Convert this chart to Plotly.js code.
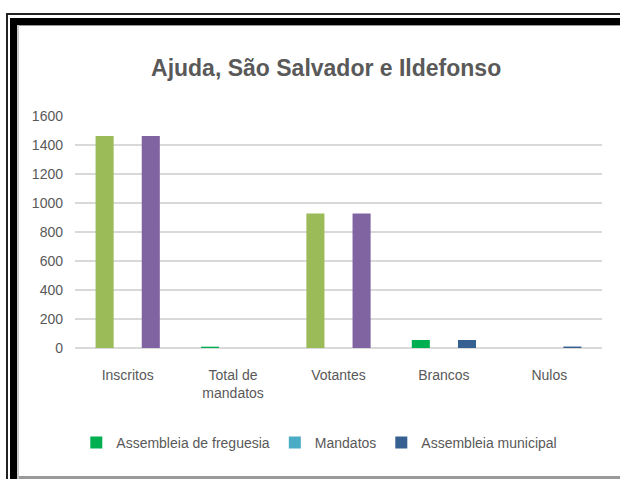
<!DOCTYPE html>
<html>
<head>
<meta charset="utf-8">
<script src="https://cdn.plot.ly/plotly-3.0.1.min.js"></script>
<style>
  html, body { margin: 0; padding: 0; background: #fff; }
  #wrap { position: relative; width: 620px; height: 479px; overflow: hidden; }
  #chart { position: absolute; left: 0; top: 0; width: 620px; height: 479px; }
  .frame { position: absolute; pointer-events: none; }
</style>
</head>
<body>
<div id="wrap">
  <div id="chart"></div>
  <!-- double black frame along the top and left edges -->
  <div class="frame" style="left:6px; top:13px; width:614px; height:2px; background:#222;"></div>
  <div class="frame" style="left:6px; top:13px; width:2px; height:466px; background:#222;"></div>
  <div class="frame" style="left:10px; top:18px; width:610px; height:7px; background:#000;"></div>
  <div class="frame" style="left:10px; top:18px; width:7px; height:461px; background:#000;"></div>
  <div class="frame" style="left:17px; top:25px; width:603px; height:1px; background:#9a9a9a;"></div>
  <div class="frame" style="left:17px; top:25px; width:2px; height:454px; background:#c8c8c8;"></div>
  <div class="frame" style="left:19px; top:476px; width:601px; height:3px; background:#9a9a9a;"></div>
</div>
<script>
// Categories on the x axis
const categories = ['Inscritos', 'Total de<br>mandatos', 'Votantes', 'Brancos', 'Nulos'];

// Series values
const assembleiaFreguesia = [1462, 9, 928, 55, 0];
const mandatos = [0, 0, 0, 0, 0];
const assembleiaMunicipal = [1462, 0, 928, 55, 10];

// Per-bar colours
const freguesiaColors = ['#9BBB59', '#00B050', '#9BBB59', '#00B050', '#00B050'];
const mandatosColors = ['#4BACC6', '#4BACC6', '#4BACC6', '#4BACC6', '#4BACC6'];
const municipalColors = ['#8064A2', '#376092', '#8064A2', '#376092', '#376092'];

// Legend swatch colours
const seriesNames = ['Assembleia de freguesia', 'Mandatos', 'Assembleia municipal'];
const legendColors = ['#00B050', '#4BACC6', '#376092'];
const groups = ['f', 'm', 'a'];

const font = '"Liberation Sans", Arial, sans-serif';
const grey = '#595959';

const barTraces = [assembleiaFreguesia, mandatos, assembleiaMunicipal].map((vals, i) => ({
  type: 'bar',
  x: categories,
  y: vals,
  name: seriesNames[i],
  offsetgroup: groups[i],
  marker: { color: [freguesiaColors, mandatosColors, municipalColors][i] },
  showlegend: false,
  hoverinfo: 'x+y+name'
}));

// Entries that only carry the legend swatches
const legendTraces = seriesNames.map((name, i) => ({
  type: 'bar',
  x: categories,
  y: categories.map(() => null),
  name: name,
  offsetgroup: groups[i],
  marker: { color: legendColors[i] },
  showlegend: true,
  hoverinfo: 'skip'
}));

const layout = {
  width: 620,
  height: 479,
  margin: { l: 75, r: 18, t: 116, b: 131 },
  paper_bgcolor: '#ffffff',
  plot_bgcolor: '#ffffff',
  font: { family: font, size: 14, color: grey },
  title: {
    text: '<b>Ajuda, São Salvador e Ildefonso</b>',
    font: { family: font, size: 23, color: grey },
    xref: 'container', x: 0.526, xanchor: 'center',
    yref: 'container', y: 1 - 68 / 479, yanchor: 'middle'
  },
  barmode: 'group',
  bargap: 0.343,
  bargroupgap: 0.217,
  xaxis: {
    type: 'category',
    showgrid: false,
    showline: false,
    zeroline: false,
    ticks: '',
    ticklabelstandoff: 17,
    tickfont: { family: font, size: 14, color: grey }
  },
  yaxis: {
    range: [0, 1600],
    dtick: 200,
    showgrid: true,
    gridcolor: '#d9d9d9',
    gridwidth: 1.5,
    zeroline: true,
    zerolinecolor: '#d9d9d9',
    zerolinewidth: 1.5,
    showline: false,
    ticks: '',
    ticklabelstandoff: 11,
    tickfont: { family: font, size: 14, color: grey }
  },
  legend: {
    orientation: 'h',
    xref: 'container', x: 0.515, xanchor: 'center',
    yref: 'container', y: 1 - 443 / 479, yanchor: 'middle',
    itemwidth: 30,
    font: { family: font, size: 14, color: grey },
    traceorder: 'normal'
  },
  showlegend: true
};

Plotly.newPlot('chart', barTraces.concat(legendTraces), layout, { displayModeBar: false, staticPlot: true });
</script>
</body>
</html>
